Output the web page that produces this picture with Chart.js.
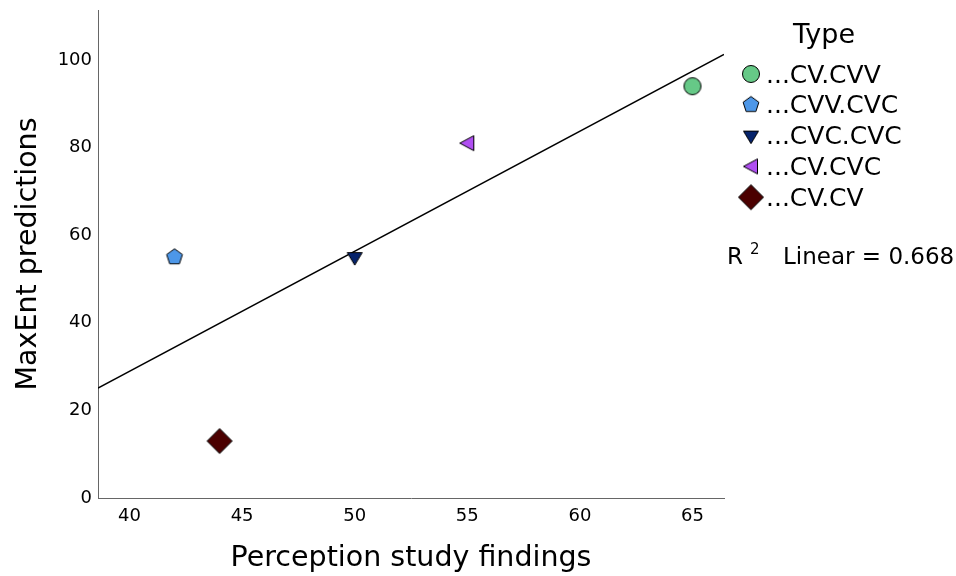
<!DOCTYPE html>
<html>
<head>
<meta charset="utf-8">
<script src="https://cdn.jsdelivr.net/npm/chart.js@4.4.1/dist/chart.umd.min.js"></script>
<style>
  html, body { margin: 0; padding: 0; background: #fff; }
</style>
</head>
<body>
<canvas id="chart" width="956" height="576"></canvas>
<script>
"use strict"

const types = ['...CV.CVV', '...CVV.CVC', '...CVC.CVC', '...CV.CVC', '...CV.CV'];
const perception = [65, 42, 50, 55, 44];
const maxent = [94, 55, 55, 81, 13];
const shapes = ['circle', 'pentagon', 'triangleDown', 'triangleLeft', 'diamond'];
const fills = ['#66c987', '#4d97e8', '#06236b', '#b04ff2', '#4b0000'];
const xTicks = [40, 45, 50, 55, 60, 65];
const yTicks = [0, 20, 40, 60, 80, 100];
const xRange = [38.6, 66.4];
const yRange = [0, 111.4];

const FONT = '"DejaVu Sans", sans-serif';
Chart.defaults.font.family = FONT;
Chart.defaults.color = '#000';

// marker glyphs drawn once, reused for the points and the legend
function makeMarker(shape, color) {
    const c = document.createElement('canvas');
    c.width = 30;
    c.height = 30;
    const ctx = c.getContext('2d');
    const m = 15;
    ctx.beginPath();
    if (shape === 'circle') {
        ctx.arc(m, m, 8.5, 0, Math.PI * 2);
    } else if (shape === 'pentagon') {
        for (let i = 0; i < 5; i++) {
            const a = -Math.PI / 2 + i * 2 * Math.PI / 5;
            ctx.lineTo(m + 8.3 * Math.cos(a), m + 8.3 * Math.sin(a));
        }
    } else if (shape === 'triangleDown') {
        ctx.moveTo(m - 7.5, m - 4.5);
        ctx.lineTo(m + 7.5, m - 4.5);
        ctx.lineTo(m, m + 8);
    } else if (shape === 'triangleLeft') {
        ctx.moveTo(m - 7.5, m);
        ctx.lineTo(m + 6.5, m - 7.5);
        ctx.lineTo(m + 6.5, m + 7.5);
    } else {
        ctx.moveTo(m, m - 12.5);
        ctx.lineTo(m + 12.5, m);
        ctx.lineTo(m, m + 12.5);
        ctx.lineTo(m - 12.5, m);
    }
    ctx.closePath();
    ctx.fillStyle = color;
    ctx.fill();
    ctx.strokeStyle = '#000';
    ctx.lineWidth = 1;
    ctx.stroke();
    return c;
}

const markers = shapes.map((s, i) => makeMarker(s, fills[i]));

// least squares fit
const n = perception.length;
const mx = perception.reduce((a, b) => a + b, 0) / n;
const my = maxent.reduce((a, b) => a + b, 0) / n;
let sxx = 0, sxy = 0, syy = 0;
for (let i = 0; i < n; i++) {
    sxx += (perception[i] - mx) ** 2;
    syy += (maxent[i] - my) ** 2;
    sxy += (perception[i] - mx) * (maxent[i] - my);
}
const slope = sxy / sxx;
const intercept = my - slope * mx;
const r2 = sxy * sxy / (sxx * syy);

const scatterSets = types.map((t, i) => ({
    type: 'scatter',
    label: t,
    data: [{x: perception[i], y: maxent[i]}],
    pointStyle: markers[i],
    pointRadius: 8,
    pointHoverRadius: 8,
    order: 1
}));

const fitLine = {
    type: 'line',
    label: 'Linear',
    data: xRange.map(x => ({x: x, y: intercept + slope * x})),
    borderColor: '#000',
    borderWidth: 1.5,
    pointRadius: 0,
    fill: false,
    order: 2
};

const typeLegend = {
    id: 'typeLegend',
    afterDraw(chart) {
        const ctx = chart.ctx;
        const left = chart.chartArea.right;
        ctx.save();
        ctx.fillStyle = '#000';
        ctx.textBaseline = 'middle';
        ctx.textAlign = 'center';
        ctx.font = '27px ' + FONT;
        ctx.fillText('Type', left + 100, 36);

        ctx.textAlign = 'left';
        ctx.font = '25px ' + FONT;
        types.forEach((t, i) => {
            const y = 74 + i * 30.8;
            const mk = markers[i];
            ctx.drawImage(mk, left + 27 - mk.width / 2, y - mk.height / 2);
            ctx.fillText(t, left + 42, y + 2);
        });

        ctx.font = '23px ' + FONT;
        ctx.fillText('R', left + 3, 258);
        const wR = ctx.measureText('R').width;
        ctx.font = '15px ' + FONT;
        ctx.fillText('2', left + 3 + wR + 7, 250);
        ctx.font = '23px ' + FONT;
        ctx.fillText('Linear = ' + r2.toFixed(3), left + 59, 258);
        ctx.restore();
    }
};

new Chart(document.getElementById('chart'), {
    type: 'scatter',
    data: {
        datasets: [...scatterSets, fitLine]
    },
    options: {
        responsive: false,
        animation: false,
        layout: {padding: {top: 10, right: 232, left: 0, bottom: 0}},
        plugins: {
            legend: {display: false},
            tooltip: {enabled: false}
        },
        scales: {
            x: {
                type: 'linear',
                min: xRange[0],
                max: xRange[1],
                afterBuildTicks: s => { s.ticks = xTicks.map(v => ({value: v})); },
                afterFit: s => { s.height = 78; s.paddingLeft = 0; s.paddingRight = 0; },
                grid: {display: false, drawTicks: false},
                border: {display: true, color: '#666', width: 1},
                ticks: {font: {size: 18}, padding: 8, color: '#000'},
                title: {
                    display: true,
                    text: 'Perception study findings',
                    font: {size: 28.5, lineHeight: 1},
                    padding: {top: 0, bottom: 3}
                }
            },
            y: {
                type: 'linear',
                min: yRange[0],
                max: yRange[1],
                afterBuildTicks: s => { s.ticks = yTicks.map(v => ({value: v})); },
                afterFit: s => { s.width = 98; s.paddingTop = 0; s.paddingBottom = 0; },
                grid: {display: false, drawTicks: false},
                border: {display: true, color: '#666', width: 1},
                ticks: {font: {size: 18}, padding: 6, color: '#000'},
                title: {
                    display: true,
                    text: 'MaxEnt predictions',
                    font: {size: 28.5, lineHeight: 1},
                    padding: {top: 14, bottom: 0}
                }
            }
        }
    },
    plugins: [typeLegend]
});
</script>
</body>
</html>
